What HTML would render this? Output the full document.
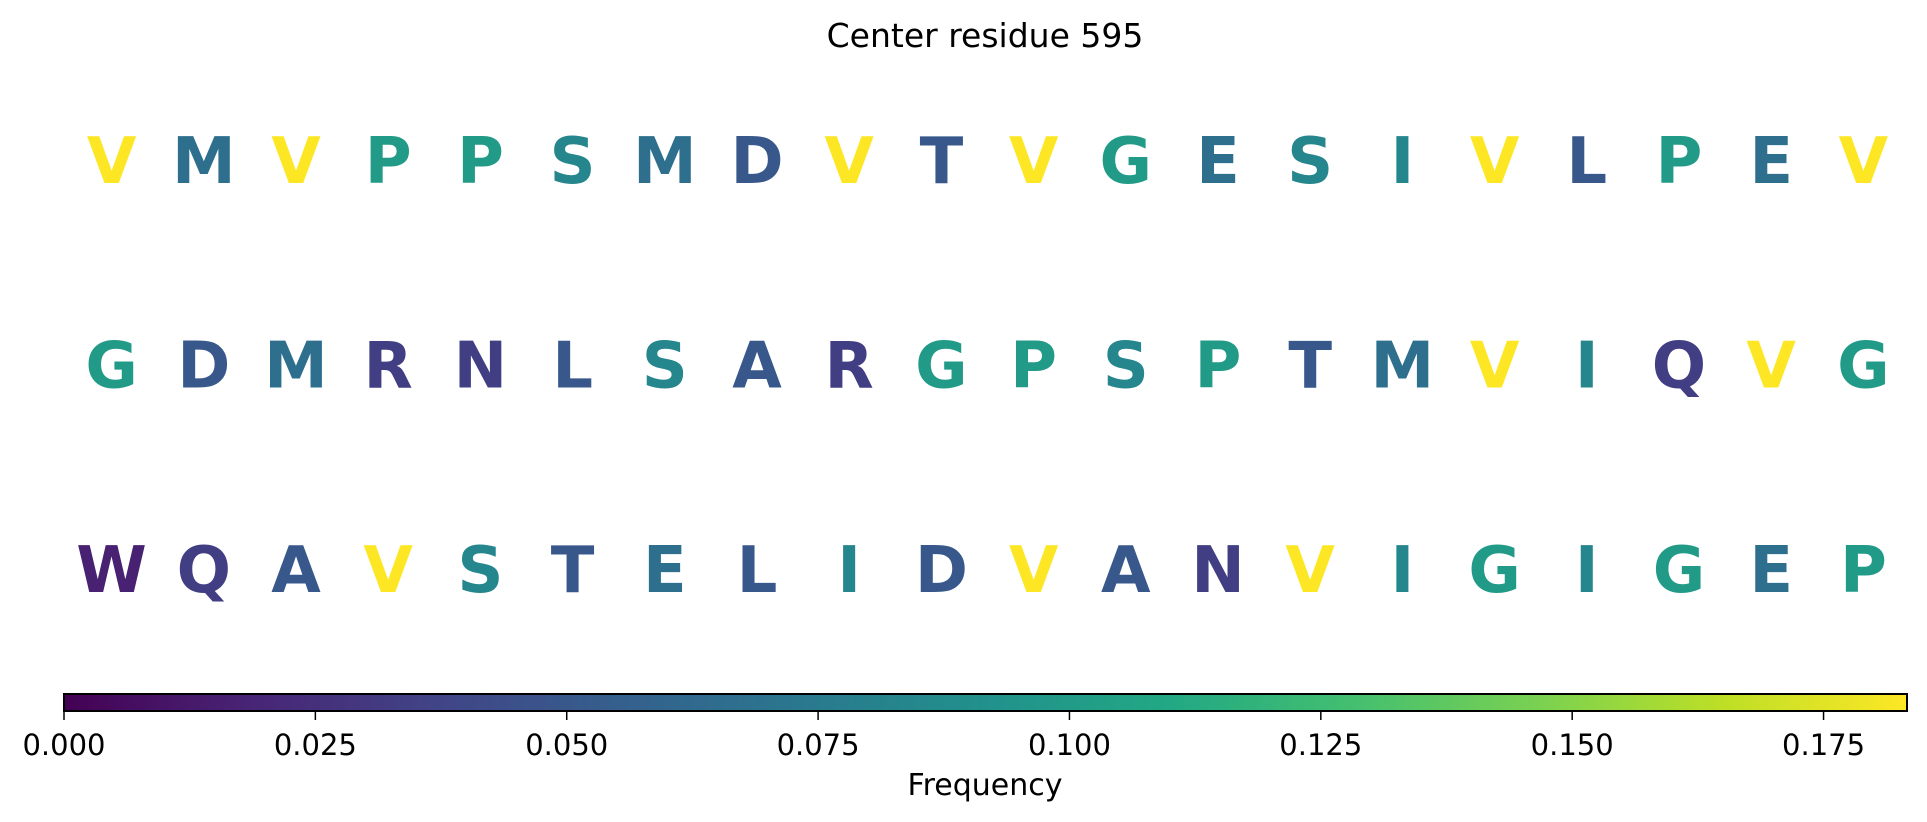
<!DOCTYPE html>
<html><head><meta charset="utf-8"><style>
html,body{margin:0;padding:0;background:#fff;}
svg{display:block;font-family:"DejaVu Sans","Liberation Sans",sans-serif;}
</style></head><body>
<svg id="chart" width="1927" height="822" viewBox="0 0 1927 822">
<defs><linearGradient id="viridis" x1="0" x2="1" y1="0" y2="0">
<stop offset="0" stop-color="#440154"/><stop offset="0.1" stop-color="#482475"/><stop offset="0.2" stop-color="#414487"/><stop offset="0.3" stop-color="#355f8d"/><stop offset="0.4" stop-color="#2a788e"/><stop offset="0.5" stop-color="#21918c"/><stop offset="0.6" stop-color="#22a884"/><stop offset="0.7" stop-color="#44bf70"/><stop offset="0.8" stop-color="#7ad151"/><stop offset="0.9" stop-color="#bddf26"/><stop offset="1" stop-color="#fde725"/>
</linearGradient></defs>
<text x="985" y="47" font-size="33" text-anchor="middle" fill="#000">Center residue 595</text>
<g id="letters"></g>
<rect x="64" y="694" width="1843" height="17" fill="url(#viridis)" stroke="#000" stroke-width="2"/>
<g id="cbticks"></g>
<text x="985" y="795" font-size="30" text-anchor="middle" fill="#000">Frequency</text>
</svg>
<script>
const rows = [
"VMVPPSMDVTVGESIVLPEV",
"GDMRNLSARGPSPTMVIQVG",
"WQAVSTELIDVANVIGIGEP"
];
const freqs = [
[0.1833,0.0667,0.1833,0.1,0.1,0.0833,0.0667,0.05,0.1833,0.05,0.1833,0.1,0.0667,0.0833,0.0833,0.1833,0.05,0.1,0.0667,0.1833],
[0.1,0.05,0.0667,0.0333,0.0333,0.05,0.0833,0.05,0.0333,0.1,0.1,0.0833,0.1,0.05,0.0667,0.1833,0.0833,0.0333,0.1833,0.1],
[0.0167,0.0333,0.05,0.1833,0.0833,0.05,0.0667,0.05,0.0833,0.05,0.1833,0.05,0.0333,0.1833,0.0833,0.1,0.0833,0.1,0.0667,0.1]
];
const tickValues = [0,0.025,0.05,0.075,0.1,0.125,0.15,0.175];
const tickLabels = ["0.000","0.025","0.050","0.075","0.100","0.125","0.150","0.175"];
const vmin = 0, vmax = 0.1833;

const NS="http://www.w3.org/2000/svg";
const stops=[[68,1,84],[72,36,117],[65,68,135],[53,95,141],[42,120,142],[33,145,140],[34,168,132],[68,191,112],[122,209,81],[189,223,38],[253,231,37]];
function viridis(t){t=Math.max(0,Math.min(1,t));const p=t*10;const i=Math.min(9,Math.floor(p));const f=p-i;
const a=stops[i],b=stops[i+1];return "rgb("+a.map((v,k)=>Math.round(v+(b[k]-v)*f)).join(",")+")";}
const colX=i=>111.6+i*92.2;
const rowY=r=>183+r*204.5;
const cbX=v=>64+(v-vmin)/(vmax-vmin)*1843;
const g=document.getElementById("letters");
rows.forEach((row,r)=>{[...row].forEach((ch,i)=>{
 const t=document.createElementNS(NS,"text");
 t.setAttribute("x",colX(i));t.setAttribute("y",rowY(r));
 t.setAttribute("font-size","64");t.setAttribute("font-weight","bold");
 t.setAttribute("text-anchor","middle");
 t.setAttribute("fill",viridis((freqs[r][i]-vmin)/(vmax-vmin)));
 
 
 t.textContent=ch;g.appendChild(t);});});
const tg=document.getElementById("cbticks");
tickValues.forEach((v,i)=>{
 const x=cbX(v);
 const l=document.createElementNS(NS,"line");
 l.setAttribute("x1",x);l.setAttribute("x2",x);l.setAttribute("y1",711);l.setAttribute("y2",720);
 l.setAttribute("stroke","#000");l.setAttribute("stroke-width","1.5");
 
 
 tg.appendChild(l);
 const t=document.createElementNS(NS,"text");
 t.setAttribute("x",x);t.setAttribute("y",755);t.setAttribute("font-size","29");t.setAttribute("text-anchor","middle");
 
 
 t.textContent=tickLabels[i];tg.appendChild(t);});
</script>
</body></html>
